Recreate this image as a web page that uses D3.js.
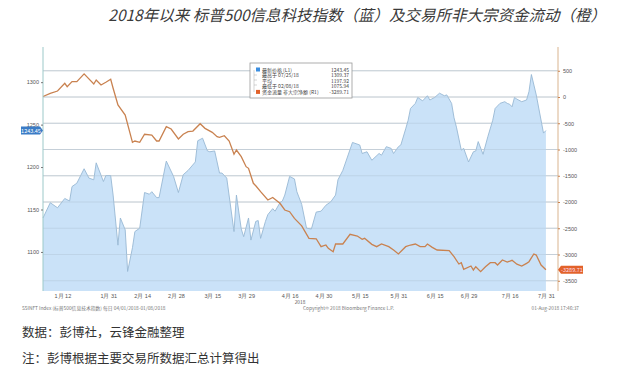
<!DOCTYPE html>
<html>
<head>
<meta charset="utf-8">
<script src="https://cdn.jsdelivr.net/npm/d3@7"></script>
<style>
  body { margin: 0; background: #fff; }
  svg { display: block; font-family: "Noto Sans CJK SC", "Noto Sans", sans-serif; }
</style>
</head>
<body>
<script>
const width = 622;
const height = 372;

// S5INFT price (left axis)
const priceDates = ['01-04','01-07','01-10','01-13','01-15','01-16','01-18','01-21','01-23','01-25','01-26','01-29','01-30',
  '02-01','02-02','02-04','02-05','02-07','02-08','02-10','02-11','02-13','02-15','02-17','02-18','02-20','02-21','02-24','02-27',
  '03-01','03-03','03-05','03-08','03-09','03-11','03-13','03-14','03-16','03-18','03-19','03-21','03-24','03-25','03-27','03-28','03-30','03-31',
  '04-02','04-03','04-04','04-06','04-07','04-09','04-10','04-12','04-13','04-14','04-16','04-18','04-19','04-21','04-23','04-25','04-27','04-29',
  '05-01','05-03','05-05','05-06','05-08','05-12','05-15','05-16','05-18','05-20','05-23','05-24','05-26','05-28','05-29','05-31',
  '06-01','06-03','06-04','06-05','06-07','06-08','06-10','06-12','06-13','06-15','06-17','06-19','06-20','06-22','06-23','06-24','06-26','06-27','06-29',
  '07-01','07-02','07-03','07-05','07-07','07-09','07-10','07-12','07-14','07-15','07-16','07-17','07-18','07-19','07-21','07-23','07-24','07-25','07-27','07-30','07-31'];
const priceValues = [1140,1158,1152,1163,1160,1177,1181,1198,1187,1185,1205,1183,1190,
  1190,1167,1108,1140,1126,1077,1105,1124,1128,1170,1168,1171,1164,1164,1207,1189,
  1170,1191,1196,1206,1231,1234,1219,1218,1219,1193,1193,1187,1124,1167,1127,1118,1140,1114,
  1136,1137,1116,1136,1144,1151,1148,1158,1160,1167,1189,1186,1171,1156,1128,1127,1147,1148,
  1155,1159,1167,1185,1196,1229,1226,1216,1218,1208,1216,1214,1224,1222,1216,1224,
  1226,1245,1255,1269,1275,1282,1278,1284,1279,1282,1287,1284,1285,1275,1258,1247,1220,1222,1206,
  1218,1219,1230,1215,1236,1255,1269,1275,1277,1275,1274,1271,1282,1280,1277,1279,1289,1309,1285,1240,1243];

// non-block net flow (right axis)
const flowDates = ['01-04','01-07','01-10','01-13','01-14','01-16','01-18','01-21','01-25','01-26','01-28','01-30',
  '02-01','02-02','02-04','02-07','02-10','02-11','02-13','02-15','02-18','02-20','02-21','02-24','02-26',
  '03-01','03-03','03-05','03-07','03-10','03-12','03-15','03-17','03-18','03-20','03-22','03-24','03-25','03-27','03-29','03-30',
  '04-01','04-02','04-04','04-07','04-09','04-12','04-14','04-16','04-18','04-21','04-24','04-27','04-29',
  '05-01','05-02','05-04','05-05','05-08','05-11','05-14','05-16','05-17','05-20','05-22','05-24','05-27','05-29','05-31',
  '06-03','06-05','06-07','06-09','06-11','06-12','06-14','06-16','06-21','06-23','06-25','06-26','06-27','06-30',
  '07-01','07-02','07-04','07-06','07-08','07-10','07-11','07-13','07-15','07-17','07-19','07-21','07-23','07-24','07-26','07-27','07-29','07-31'];
const flowValues = [10,70,114,260,196,292,292,440,248,324,229,280,
  337,166,-152,-343,-863,-838,-863,-710,-724,-838,-838,-565,-610,
  -800,-710,-660,-648,-510,-597,-673,-756,-768,-737,-838,-1090,-1010,-1137,-1327,-1358,
  -1644,-1690,-1803,-1962,-1915,-2025,-2152,-2185,-2311,-2454,-2692,-2700,-2851,
  -2819,-2882,-2946,-2800,-2800,-2616,-2648,-2711,-2692,-2806,-2851,-2800,-2851,-2914,-2990,
  -2851,-2819,-2800,-2851,-2851,-2800,-2864,-2914,-2927,-3041,-3181,-3156,-3282,-3219,
  -3295,-3232,-3327,-3232,-3156,-3156,-3200,-3105,-3145,-3110,-3185,-3219,-3168,-3137,-2990,-3010,-3200,-3290];

const xTickDates = ['01-12','01-31','02-14','02-28','03-15','03-29','04-16','04-30','05-15','05-31','06-15','06-29','07-16','07-31'];
const xTickLabels = ['1月 12','1月 31','2月 14','2月 28','3月 15','3月 29','4月 16','4月 30','5月 15','5月 31','6月 15','6月 29','7月 16','7月 31'];
const leftTicks = [1100, 1150, 1200, 1250, 1300];
const rightTicks = [500, 0, -500, -1000, -1500, -2000, -2500, -3000, -3500];

const legendLabels = ['最新价格 (L1)', '最高于 07/25/18', '平均', '最低于 02/08/18', '资金流量 非大宗净额 (R1)'];
const legendValues = ['1243.45', '1309.37', '1197.92', '1075.94', '-3289.71'];

const parse = d3.timeParse('%Y-%m-%d');
const toDate = (s) => parse('2018-' + s);

const price = priceDates.map((d, i) => ({ date: toDate(d), value: priceValues[i] }));
const flow = flowDates.map((d, i) => ({ date: toDate(d), value: flowValues[i] }));

const plot = { left: 43, right: 558, top: 55, bottom: 291 };

const x = d3.scaleTime()
    .domain([toDate('01-04'), toDate('08-05')])
    .range([plot.left, plot.right]);
const yL = d3.scaleLinear().domain([1054, 1332]).range([plot.bottom, plot.top]);
const yR = d3.scaleLinear().domain([-3695, 800]).range([plot.bottom, plot.top]);

const svg = d3.select('body').append('svg')
    .attr('width', width)
    .attr('height', height);

// title
svg.append('text')
    .attr('x', 606).attr('y', 21)
    .attr('text-anchor', 'end')
    .attr('font-size', 15.5)
    .attr('font-style', 'italic')
    .attr('fill', '#3a3a3a')
    .text('2018年以来 标普500信息科技指数（蓝）及交易所非大宗资金流动（橙）');

// gridlines on right-axis ticks
svg.append('g')
  .selectAll('line')
  .data(rightTicks)
  .join('line')
    .attr('x1', plot.left).attr('x2', plot.right)
    .attr('y1', (d) => yR(d)).attr('y2', (d) => yR(d))
    .attr('stroke', '#d6d6d6')
    .attr('stroke-width', 1);

// price area
const area = d3.area()
    .x((d) => x(d.date))
    .y0(plot.bottom)
    .y1((d) => yL(d.value));
svg.append('path')
    .datum(price)
    .attr('d', area)
    .attr('fill', '#c7e0f8')
    .attr('fill-opacity', 0.95);
svg.append('path')
    .datum(price)
    .attr('d', d3.line().x((d) => x(d.date)).y((d) => yL(d.value)))
    .attr('fill', 'none')
    .attr('stroke', '#97b8d4')
    .attr('stroke-width', 0.9);

// gridlines show faintly through the area
svg.append('g')
  .selectAll('line')
  .data(rightTicks)
  .join('line')
    .attr('x1', plot.left).attr('x2', plot.right)
    .attr('y1', (d) => yR(d)).attr('y2', (d) => yR(d))
    .attr('stroke', '#b4c8da')
    .attr('stroke-opacity', 0.5)
    .attr('stroke-width', 1);

// flow line
svg.append('path')
    .datum(flow)
    .attr('d', d3.line().x((d) => x(d.date)).y((d) => yR(d.value)))
    .attr('fill', 'none')
    .attr('stroke', '#c98250')
    .attr('stroke-width', 1.3);

// left axis
const axL = svg.append('g')
    .attr('transform', `translate(${plot.left},0)`)
    .call(d3.axisLeft(yL).tickValues(leftTicks).tickFormat(d3.format('d')).tickSize(2).tickPadding(2));
axL.select('.domain').attr('stroke', '#9cc9c9').attr('d', `M0,${plot.top - 8}V${plot.bottom}`);
axL.selectAll('.tick line').attr('stroke', '#777');
axL.selectAll('text').attr('font-size', 5.5).attr('fill', '#555');

// right axis
const axR = svg.append('g')
    .attr('transform', `translate(${plot.right},0)`)
    .call(d3.axisRight(yR).tickValues(rightTicks).tickFormat((d) => String(d)).tickSize(2).tickPadding(3));
axR.select('.domain').attr('stroke', '#d9b48f').attr('d', `M0,${plot.top - 8}V${plot.bottom}`);
axR.selectAll('.tick line').attr('stroke', '#c98250');
axR.selectAll('text').attr('font-size', 5.5).attr('fill', '#555');

// bottom axis
const axB = svg.append('g')
    .attr('transform', `translate(0,${plot.bottom})`)
    .call(d3.axisBottom(x)
      .tickValues(xTickDates.map(toDate))
      .tickFormat((d, i) => xTickLabels[i])
      .tickSize(0).tickPadding(3));
axB.select('.domain').remove();
axB.selectAll('text').attr('font-size', 5.5).attr('fill', '#555');
svg.append('text')
    .attr('x', 300).attr('y', 304)
    .attr('text-anchor', 'middle')
    .attr('font-size', 4.8).attr('fill', '#555')
    .text('2018');

// last value badges
const badgeL = svg.append('g').attr('transform', `translate(${plot.left},${yL(priceValues[priceValues.length - 1])})`);
badgeL.append('path')
    .attr('d', 'M-22,-4H-3L0,0L-3,4H-22Z')
    .attr('fill', '#3b7cc6');
badgeL.append('text')
    .attr('x', -12).attr('y', 2)
    .attr('text-anchor', 'middle')
    .attr('font-size', 5.5).attr('fill', '#fff')
    .text(legendValues[0]);
const badgeR = svg.append('g').attr('transform', `translate(${plot.right},${yR(flowValues[flowValues.length - 1])})`);
badgeR.append('path')
    .attr('d', 'M0,0L3,-4H25V4H3Z')
    .attr('fill', '#e2622a');
badgeR.append('text')
    .attr('x', 14).attr('y', 2)
    .attr('text-anchor', 'middle')
    .attr('font-size', 5.5).attr('fill', '#fde')
    .text(legendValues[4]);

// legend box
const lg = svg.append('g').attr('transform', 'translate(250,63)');
lg.append('rect')
    .attr('width', 102).attr('height', 35)
    .attr('fill', '#fff')
    .attr('stroke', '#999')
    .attr('stroke-width', 0.8);
lg.append('path')
    .attr('d', 'M4,7V29M4,12H7M4,17H7M4,22H7')
    .attr('stroke', '#aaa').attr('stroke-width', 0.5).attr('fill', 'none');
const rows = lg.selectAll('g.row')
  .data(legendLabels)
  .join('g')
    .attr('class', 'row')
    .attr('transform', (d, i) => `translate(0,${6.5 + i * 5.6})`);
rows.filter((d, i) => i === 0 || i === 4)
  .append('rect')
    .attr('x', 6).attr('y', -2).attr('width', 4).attr('height', 4)
    .attr('fill', (d, i) => (i === 0 ? '#3b8ee0' : '#e2622a'));
rows.append('text')
    .attr('x', 12).attr('y', 2)
    .attr('font-size', 5).attr('fill', '#444')
    .text((d) => d);
rows.append('text')
    .attr('x', 99).attr('y', 2)
    .attr('text-anchor', 'end')
    .attr('font-size', 5).attr('fill', '#444')
    .text((d, i) => legendValues[i]);

// footer of the terminal chart
const foot = svg.append('g').attr('font-size', 4.8).attr('fill', '#777');
foot.append('text').attr('x', 22).attr('y', 310)
    .text('S5INFT Index (标普500信息技术指数)  每日 04/01/2018-01/08/2018');
foot.append('text').attr('x', 303).attr('y', 310)
    .text('Copyright© 2018 Bloomberg Finance L.P.');
foot.append('text').attr('x', 579).attr('y', 310).attr('text-anchor', 'end')
    .text('01-Aug-2018 17:46:37');

// source notes
const notes = svg.append('g').attr('font-size', 12.5).attr('fill', '#333');
notes.append('text').attr('x', 22).attr('y', 337).text('数据：彭博社，云锋金融整理');
notes.append('text').attr('x', 22).attr('y', 363).text('注：彭博根据主要交易所数据汇总计算得出');
</script>
</body>
</html>
